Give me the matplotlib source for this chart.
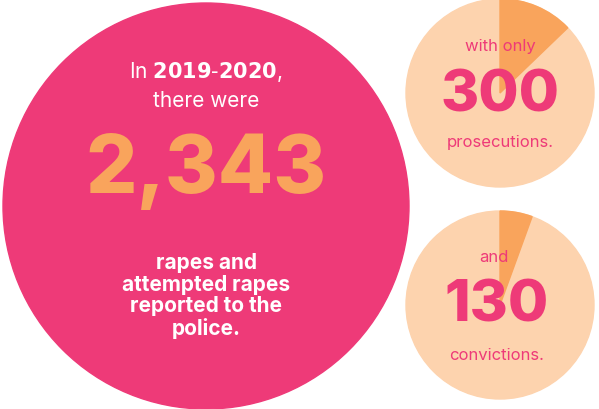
import matplotlib.pyplot as plt
from matplotlib.patches import Circle, Wedge

reported = 2343
prosecutions = 300
convictions = 130

pink = '#EE3A78'
peach = '#FDD3AE'
orange = '#F9A45C'

fig = plt.figure(figsize=(5.99, 4.09), dpi=100)
ax = fig.add_axes([0, 0, 1, 1])
ax.set_xlim(0, 599)
ax.set_ylim(409, 0)
ax.set_aspect('equal')
ax.axis('off')

ax.add_patch(Circle((206, 206), 203, color=pink))

for (cx, cy), val in [((500, 93), prosecutions), ((500, 305), convictions)]:
    ax.add_patch(Circle((cx, cy), 94, color=peach))
    ang = 360 * val / reported
    ax.add_patch(Wedge((cx, cy), 94, -90, -90 + ang, color=orange))

fam = ['Inter', 'DejaVu Sans']
ax.text(206, 72, 'In $\\mathbf{2019\\text{-}2020}$,', ha='center', va='center',
        color='white', fontsize=15, family=fam)
ax.text(206, 101, 'there were', ha='center', va='center', color='white', fontsize=15, family=fam)
ax.text(206, 172, f'{reported:,}', ha='center', va='center', color=orange,
        fontsize=58, fontweight='heavy', family=fam)
ax.text(206, 296, 'rapes and\nattempted rapes\nreported to the\npolice.', ha='center', va='center',
        color='white', fontsize=15, fontweight='bold', family=fam, linespacing=1.1)

ax.text(500, 47, 'with only', ha='center', va='center', color=pink, fontsize=12, family=fam)
ax.text(500, 96, str(prosecutions), ha='center', va='center', color=pink,
        fontsize=42, fontweight='heavy', family=fam)
ax.text(500, 143, 'prosecutions.', ha='center', va='center', color=pink, fontsize=12, family=fam)

ax.text(494, 257, 'and', ha='center', va='center', color=pink, fontsize=12, family=fam)
ax.text(497, 306, str(convictions), ha='center', va='center', color=pink,
        fontsize=42, fontweight='heavy', family=fam)
ax.text(497, 355, 'convictions.', ha='center', va='center', color=pink, fontsize=12, family=fam)

fig.savefig('out.png', dpi=100)
